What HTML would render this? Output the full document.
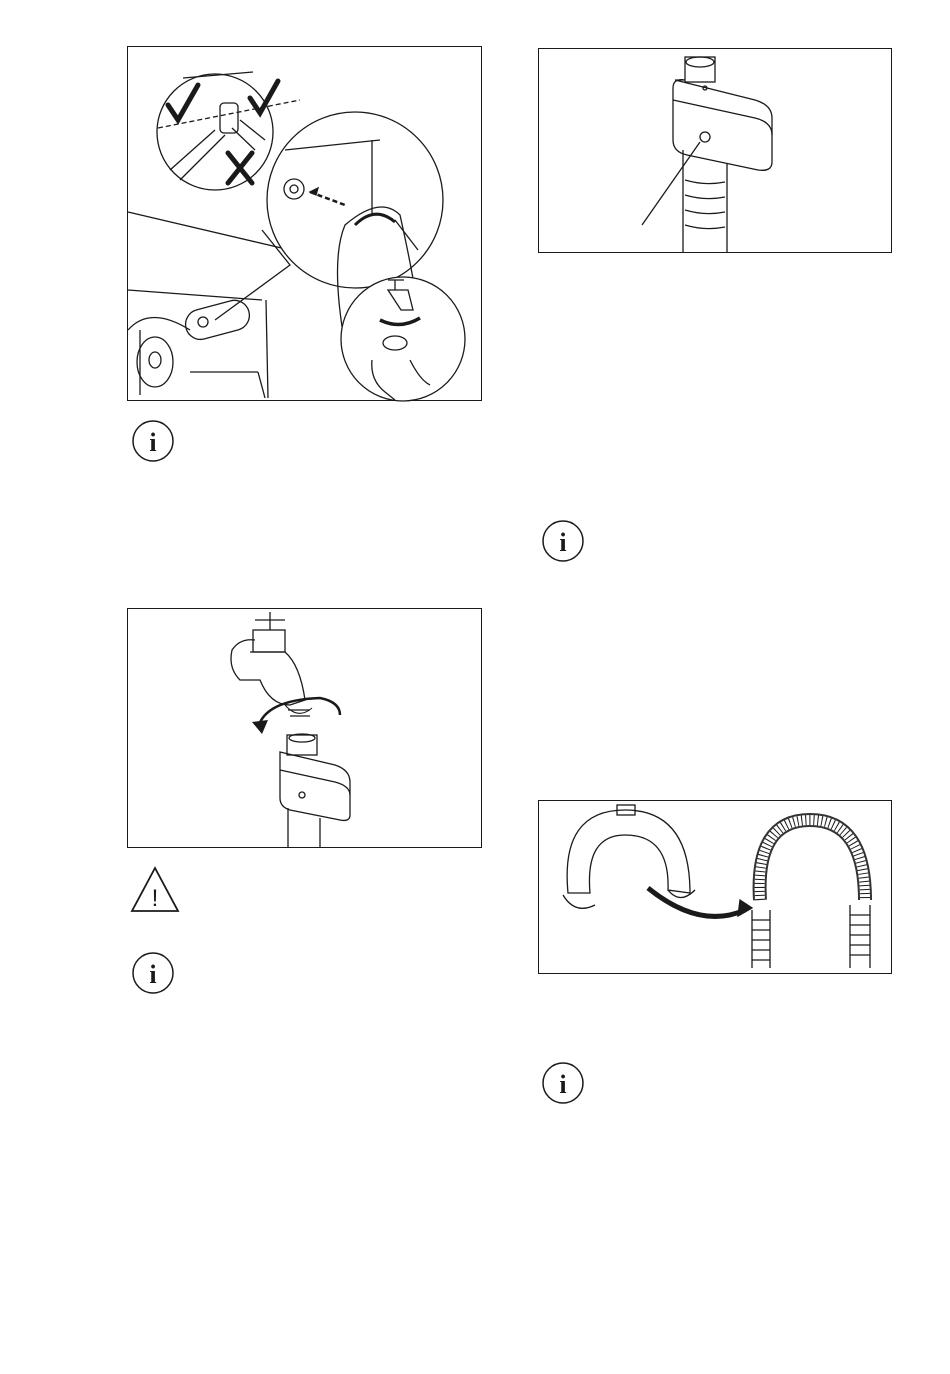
<!DOCTYPE html>
<html><head><meta charset="utf-8"><style>
html,body{margin:0;padding:0;background:#fff;}
svg{display:block}
</style></head><body>
<svg width="950" height="1374" viewBox="0 0 950 1374" xmlns="http://www.w3.org/2000/svg" fill="none" stroke="#1a1a1a" stroke-width="1.3" font-family="Liberation Serif, serif">
<!-- Box 1 -->
<rect x="127.5" y="46.5" width="354" height="354" stroke-width="1"/>
<g>
<line x1="128" y1="212" x2="290" y2="250"/>
<line x1="128" y1="290" x2="262" y2="300"/>
<path d="M128 330 Q150 305 190 330"/>
<ellipse cx="155" cy="362" rx="18" ry="25"/>
<ellipse cx="155" cy="360" rx="6" ry="8"/>
<path d="M140 395 L140 330"/>
<line x1="190" y1="372" x2="258" y2="372"/>
<line x1="258" y1="372" x2="265" y2="398"/>
<line x1="266" y1="300" x2="268" y2="398"/>
<rect x="185" y="305" width="65" height="30" rx="15" transform="rotate(-15 217 320)"/>
<circle cx="203" cy="322" r="5"/>
<polyline points="215,320 290,265 262,230"/>
<circle cx="355" cy="200" r="88" fill="#fff"/>
<line x1="285" y1="150" x2="380" y2="140"/>
<line x1="372" y1="140" x2="372" y2="215"/>
<line x1="395" y1="220" x2="418" y2="250"/>
<circle cx="294" cy="189" r="10"/>
<circle cx="294" cy="189" r="4"/>
<path d="M310 192 L345 205" stroke-width="2.5" stroke-dasharray="5 3"/>
<path d="M310 192 l8 -4 l-2 7 z" fill="#1a1a1a"/>
<path d="M345 345 Q330 260 345 225 Q380 195 400 215 Q410 260 415 290 Q380 320 345 345"/>
<path d="M355 225 Q375 205 395 222" stroke-width="3"/>
<circle cx="215" cy="132" r="58" fill="#fff"/>
<line x1="183" y1="78" x2="253" y2="72"/>
<line x1="158" y1="128" x2="300" y2="100" stroke-dasharray="5 3"/>
<line x1="170" y1="170" x2="215" y2="130"/>
<line x1="180" y1="180" x2="225" y2="135"/>
<line x1="255" y1="150" x2="232" y2="128"/>
<line x1="265" y1="140" x2="240" y2="120"/>
<rect x="220" y="103" width="18" height="30" rx="4"/>
<path d="M168 105 l10 15 l20 -35" stroke-width="5" stroke-linecap="round"/>
<path d="M250 98 l10 15 l18 -32" stroke-width="5" stroke-linecap="round"/>
<path d="M228 153 l24 30 M252 153 l-24 30" stroke-width="5" stroke-linecap="round"/>
<circle cx="403" cy="339" r="62" fill="#fff"/>
<path d="M395 290 l0 -10 M388 280 l16 0"/>
<path d="M388 290 l20 0 l5 20 l-12 0 z"/>
<path d="M380 320 Q400 330 420 318" stroke-width="3.5"/>
<path d="M372 360 Q370 380 385 392 L395 400 M410 360 Q420 380 430 385"/>
<ellipse cx="395" cy="343" rx="12" ry="7"/>
</g>
<!-- Box 2 -->
<rect x="538.5" y="48.5" width="353" height="204" stroke-width="1"/>
<rect x="685" y="57" width="30" height="25"/>
<ellipse cx="700" cy="62" rx="14" ry="5"/>
<path d="M675 80 L755 100 Q772 105 772 118 L772 162 Q772 172 758 170 L687 155 Q673 152 673 140 L673 88 Q673 78 685 80 Z"/>
<path d="M673 100 L755 118 Q772 122 772 135"/>
<circle cx="705" cy="137" r="5"/>
<circle cx="705" cy="88" r="2"/>
<path d="M683 150 L683 252 M727 163 L727 252"/>
<path d="M685 180 Q705 186 725 182 M685 195 Q705 201 725 197 M685 210 Q705 216 725 212 M685 225 Q705 231 725 227"/>
<line x1="700" y1="142" x2="642" y2="225"/>
<!-- Box 3 -->
<rect x="127.5" y="608.5" width="354" height="239" stroke-width="1"/>
<path d="M255 620 l30 0 M270 612 l0 18"/>
<rect x="253" y="630" width="32" height="22"/>
<path d="M250 652 L285 652 Q300 665 305 700 L290 705 Q270 705 260 680 L240 680 Q228 668 232 650 Q240 638 255 640"/>
<path d="M285 705 Q298 720 312 708" stroke-width="1"/>
<path d="M288 710 l22 0 M290 716 l20 0"/>
<path d="M258 728 Q265 700 320 698 Q340 702 340 715" stroke-width="2.5"/>
<path d="M252 722 l10 12 l6 -14 z" fill="#1a1a1a" stroke="none"/>
<rect x="287" y="735" width="30" height="20"/>
<ellipse cx="302" cy="738" rx="13" ry="4"/>
<path d="M280 752 L335 765 Q350 770 350 782 L350 815 Q350 822 340 820 L290 810 Q280 807 280 798 Z"/>
<path d="M280 770 L335 782 Q350 786 350 795"/>
<circle cx="302" cy="795" r="3"/>
<path d="M288 808 L288 847 M320 818 L320 847"/>
<!-- Box 4 -->
<rect x="538.5" y="800.5" width="353" height="173" stroke-width="1"/>
<path d="M568 893 Q560 810 625 810 Q690 810 690 893 L668 890 Q670 835 625 835 Q585 835 590 893 Z"/>
<rect x="617" y="805" width="18" height="10"/>
<path d="M563 895 Q575 915 595 905 M668 890 Q680 905 695 890"/>
<path d="M648 888 Q700 930 745 910" stroke-width="5"/>
<path d="M740 900 l12 8 l-14 8 z" fill="#1a1a1a"/>
<path d="M760 900 Q755 820 810 820 Q865 820 865 900" stroke-width="14" stroke="#333"/>
<path d="M760 900 Q755 820 810 820 Q865 820 865 900" stroke-width="10" stroke="#fff"/>
<path d="M760 900 Q755 820 810 820 Q865 820 865 900" stroke-width="10" stroke="#1a1a1a" stroke-dasharray="1 3"/>
<path d="M752 910 L752 968 M770 910 L770 968 M850 905 L850 968 M870 905 L870 968"/>
<path d="M752 920 l18 0 M752 930 l18 0 M752 940 l18 0 M752 950 l18 0 M752 960 l18 0 M850 915 l20 0 M850 925 l20 0 M850 935 l20 0 M850 945 l20 0 M850 955 l20 0"/>
<!-- Info icons -->
<g stroke-width="1.5">
<circle cx="153" cy="441" r="20"/>
<circle cx="563" cy="541" r="20"/>
<circle cx="153" cy="973" r="20"/>
<circle cx="563" cy="1083" r="20"/>
<path d="M155 911 L132 911 L155 868 L178 911 Z" stroke-width="1.8"/>
</g>
<g fill="#1a1a1a" stroke="none" font-weight="bold" font-size="26" text-anchor="middle">
<text x="153" y="451">i</text>
<text x="563" y="551">i</text>
<text x="153" y="983">i</text>
<text x="563" y="1093">i</text>
<text x="155" y="906" font-size="24" font-weight="normal" font-family="Liberation Sans, sans-serif">!</text>
</g>
</svg>
</body></html>
